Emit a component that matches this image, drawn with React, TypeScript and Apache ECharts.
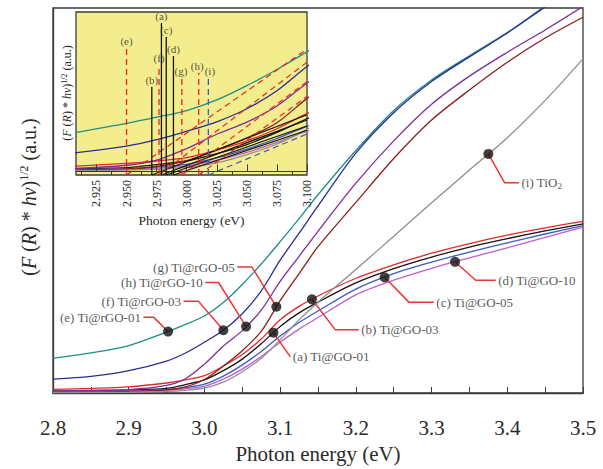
import React, { useEffect, useRef } from "react";
import * as echarts from "echarts";

const FONT = "'Liberation Serif', 'DejaVu Serif', serif";

// Shared photon-energy grid (eV)
const energy = [2.8, 2.85, 2.9, 2.95, 2.975, 3.0, 3.025, 3.05, 3.075, 3.1, 3.125, 3.15, 3.2, 3.25, 3.3, 3.35, 3.4, 3.45, 3.5];

// (F(R)*hv)^1/2 values (a.u.)
const tiGO01 = [0.5, 0.6, 0.8, 1.2, 2.2, 3.4, 5.8, 8.8, 12.8, 17.3, 20.8, 23.6, 28.6, 32.3, 35.3, 37.9, 40.1, 42.1, 43.9];
const tiGO03 = [0.95, 1.2, 1.6, 2.6, 3.4, 4.5, 7.0, 10.0, 14.0, 19.0, 22.5, 25.2, 29.8, 33.3, 36.3, 38.8, 41.0, 42.9, 44.6];
const tiGO05 = [0.35, 0.45, 0.6, 0.9, 1.4, 2.3, 4.4, 7.3, 10.8, 14.8, 18.3, 21.3, 27.0, 31.0, 34.0, 36.6, 39.0, 41.3, 43.5];
const tiGO10 = [0.3, 0.35, 0.5, 0.7, 1.1, 1.8, 3.6, 6.2, 9.5, 13.2, 16.6, 19.6, 25.5, 29.3, 32.4, 35.1, 37.7, 40.4, 43.1];
const tiRGO01 = [9.0, 10.4, 12.3, 15.8, 17.8, 20.0, 23.5, 28.2, 33.5, 39.3, 45.3, 51.5, 63.0, 73.4, 81.3, 87.6, 93.6, 100.5, 107];
const tiRGO03 = [3.6, 4.3, 5.8, 8.3, 10.4, 13.2, 16.3, 20.6, 26.5, 34.5, 41.5, 48.6, 62.3, 72.8, 80.9, 87.3, 93.5, 100.3, 107];
const tiRGO05 = [0.25, 0.3, 0.4, 0.8, 1.6, 3.5, 7.0, 11.0, 16.0, 24.0, 31.0, 38.0, 49.5, 60.9, 70.9, 78.7, 85.9, 92.2, 97.6];
const tiRGO10 = [0.5, 0.7, 0.9, 2.0, 3.7, 7.5, 12.2, 16.2, 21.5, 29.0, 35.5, 42.0, 54.5, 65.5, 75.0, 82.3, 88.5, 94.3, 100.4];
const tiO2 = [0.1, 0.15, 0.2, 0.4, 0.7, 1.3, 2.8, 5.5, 9.0, 13.8, 19.0, 23.6, 32.1, 40.7, 49.4, 57.9, 66.3, 76.0, 86.8];

// Inset: band-gap markers (eV), marker heights and tangent end values at 3.100 eV
const gapKeys = ["e", "b", "f", "a", "c", "d", "g", "h", "i"];
const gapEnergy = [2.95, 2.971, 2.977, 2.979, 2.983, 2.989, 2.996, 3.01, 3.018];
const gapTop = [40.6, 27.8, 35.0, 48.8, 44.2, 37.9, 30.7, 32.4, 30.7];
const tangentEnd = [40.2, 18.6, 35.9, 16.9, 14.9, 13.5, 29.5, 24.6, 12.3];
const gapKind = ["red", "black", "red", "black", "black", "black", "red", "red", "blue"];
const gapLabelShift = [0, 0, 0, 0, 0, 0, -1, -1.5, 1.5];

const insetTicks = [2.925, 2.95, 2.975, 3.0, 3.025, 3.05, 3.075, 3.1];
const insetMinorTicks = [2.9125, 2.9375, 2.9625, 2.9875, 3.0125, 3.0375, 3.0625, 3.0875];

const INSET_MIN = -1.2;
const INSET_MAX = 52.4;

const curves = [
  { name: "Ti@GO-01", data: tiGO01, color: "#141414" },
  { name: "Ti@GO-03", data: tiGO03, color: "#e8262a" },
  { name: "Ti@GO-05", data: tiGO05, color: "#3a5ac8" },
  { name: "Ti@GO-10", data: tiGO10, color: "#c25ec6" },
  { name: "Ti@rGO-01", data: tiRGO01, color: "#1f8d8a" },
  { name: "Ti@rGO-03", data: tiRGO03, color: "#2a2c92" },
  { name: "Ti@rGO-05", data: tiRGO05, color: "#8e1d1d" },
  { name: "Ti@rGO-10", data: tiRGO10, color: "#7c2e9c" },
  { name: "TiO2", data: tiO2, color: "#8e8e8e" },
];

// Callout annotations: marker energy on a curve, elbow and label anchor
const callouts = [
  { text: "(e) Ti@rGO-01", series: tiRGO01, x: 2.952, path: [[2.9327, 19.7], [2.9194, 19.7]], side: "left" },
  { text: "(f) Ti@rGO-03", series: tiRGO03, x: 3.025, path: [[2.9922, 23.8], [2.9724, 23.8]], side: "left" },
  { text: "(h) Ti@rGO-10", series: tiRGO10, x: 3.055, path: [[3.0187, 28.7], [3.0011, 28.7]], side: "left" },
  { text: "(g) Ti@rGO-05", series: tiRGO05, x: 3.095, path: [[3.0628, 32.7], [3.0434, 32.7]], side: "left" },
  { text: "(a) Ti@GO-01", series: tiGO01, x: 3.091, path: [[3.1135, 9.4]], side: "right" },
  { text: "(b) Ti@GO-03", series: tiGO03, x: 3.142, path: [[3.173, 16.4], [3.2038, 16.4]], side: "right" },
  { text: "(c) Ti@GO-05", series: tiGO05, x: 3.238, path: [[3.27, 23.6], [3.303, 23.6]], side: "right" },
  { text: "(d) Ti@GO-10", series: tiGO10, x: 3.331, path: [[3.3582, 29.3], [3.3847, 29.3]], side: "right" },
  { text: "{n|(i) TiO}{s|2}", series: tiO2, x: 3.375, path: [[3.3966, 54.6], [3.4155, 54.6]], side: "right" },
];

function interp(xs: number[], ys: number[], x: number): number {
  for (let i = 0; i < xs.length - 1; i++) {
    if (x >= xs[i] && x <= xs[i + 1]) {
      const t = (x - xs[i]) / (xs[i + 1] - xs[i]);
      return ys[i] + t * (ys[i + 1] - ys[i]);
    }
  }
  return ys[ys.length - 1];
}

function buildOption() {
  const series: any[] = [];
  curves.forEach((c) => {
    series.push({
      type: "line",
      name: c.name,
      xAxisIndex: 0,
      yAxisIndex: 0,
      data: energy.map((x, i) => [x, c.data[i]]),
      smooth: 0.3,
      symbol: "none",
      lineStyle: { color: c.color, width: 1.3 },
      z: 3,
    });
  });
  curves.forEach((c) => {
    series.push({
      type: "line",
      xAxisIndex: 1,
      yAxisIndex: 1,
      data: energy.map((x, i) => [x, c.data[i]]),
      smooth: 0.3,
      symbol: "none",
      lineStyle: { color: c.color, width: 1.3 },
      z: 5,
    });
  });
  const kindColor: any = { red: "#e8262a", black: "#141414", blue: "#3a5ac8" };
  gapKeys.forEach((k, i) => {
    const color = kindColor[gapKind[i]];
    const type = gapKind[i] === "black" ? "solid" : [6, 4];
    series.push({
      type: "line",
      xAxisIndex: 1,
      yAxisIndex: 1,
      data: [[gapEnergy[i], INSET_MIN], [gapEnergy[i], gapTop[i]]],
      symbol: "none",
      lineStyle: { color, width: 1.3, type },
      z: 6,
    });
    series.push({
      type: "line",
      xAxisIndex: 1,
      yAxisIndex: 1,
      data: [[gapEnergy[i], INSET_MIN], [3.1, tangentEnd[i]]],
      symbol: "none",
      lineStyle: { color, width: 1.2, type },
      z: 6,
    });
  });
  series.push({
    type: "scatter",
    xAxisIndex: 1,
    yAxisIndex: 1,
    symbolSize: 1,
    itemStyle: { color: "rgba(0,0,0,0)" },
    data: gapKeys.map((k, i) => ({
      value: [gapEnergy[i], gapTop[i]],
      label: {
        show: true,
        position: "top",
        distance: 1,
        offset: [gapLabelShift[i], 0],
        formatter: "(" + k + ")",
        fontFamily: FONT,
        fontSize: 11,
        color: "#2a2a2a",
      },
    })),
    z: 7,
  });
  callouts.forEach((c) => {
    const y = interp(energy, c.series, c.x);
    series.push({
      type: "line",
      xAxisIndex: 0,
      yAxisIndex: 0,
      data: [[c.x, y], ...c.path],
      symbol: "none",
      lineStyle: { color: "#e8383a", width: 1.5 },
      z: 8,
    });
  });
  series.push({
    type: "scatter",
    xAxisIndex: 0,
    yAxisIndex: 0,
    symbolSize: 1,
    itemStyle: { color: "rgba(0,0,0,0)" },
    data: callouts.map((c) => ({
      value: c.path[c.path.length - 1],
      label: {
        show: true,
        position: c.side,
        distance: 2,
        formatter: c.text,
        fontFamily: FONT,
        fontSize: 13,
        color: "#2a2a2a",
        rich: {
          n: { fontFamily: FONT, fontSize: 13, color: "#2a2a2a" },
          s: { fontFamily: FONT, fontSize: 9, color: "#2a2a2a", padding: [7, 0, 0, 0] },
        },
      },
    })),
    z: 9,
  });
  series.push({
    type: "scatter",
    xAxisIndex: 0,
    yAxisIndex: 0,
    symbol: "circle",
    symbolSize: 10,
    itemStyle: { color: "#111" },
    data: callouts.map((c) => [c.x, interp(energy, c.series, c.x)]),
    z: 10,
  });

  const ylabelRich = (base: number, sup: number, supPad: number) => ({
    i: { fontFamily: FONT, fontSize: base, fontStyle: "italic", fill: "#2a2a2a" },
    n: { fontFamily: FONT, fontSize: base, fill: "#2a2a2a" },
    s: { fontFamily: FONT, fontSize: sup, fill: "#2a2a2a", padding: [0, 0, supPad, 0] },
  });

  return {
    animation: false,
    backgroundColor: "#ffffff",
    grid: [
      { left: 53, right: 20, top: 8, bottom: 67, show: true, borderColor: "#3a3a3a", borderWidth: 1.3, backgroundColor: "transparent" },
      { left: 76, top: 12, width: 231, height: 163, show: true, borderColor: "#3a3a3a", borderWidth: 1.3, backgroundColor: "#f4ed8e", z: 4 },
    ],
    xAxis: [
      {
        gridIndex: 0,
        type: "value",
        min: 2.8,
        max: 3.5,
        interval: 0.1,
        axisLine: { show: true, lineStyle: { color: "#3a3a3a", width: 1.3 } },
        axisTick: { show: true, inside: true, length: 6, lineStyle: { color: "#3a3a3a" } },
        minorTick: { show: true, splitNumber: 2, length: 6, lineStyle: { color: "#3a3a3a" } },
        splitLine: { show: false },
        axisLabel: { fontFamily: FONT, fontSize: 21, color: "#2a2a2a", margin: 24, formatter: (v: number) => v.toFixed(1) },
        name: "Photon energy (eV)",
        nameLocation: "middle",
        nameGap: 50,
        nameTextStyle: { fontFamily: FONT, fontSize: 21, color: "#2a2a2a" },
      },
      {
        gridIndex: 1,
        type: "value",
        position: "bottom",
        min: 2.908,
        max: 3.1,
        axisLine: { show: true, lineStyle: { color: "#3a3a3a", width: 1.2 } },
        axisTick: { show: true, inside: true, length: 7, customValues: insetTicks, lineStyle: { color: "#3a3a3a" } },
        splitLine: { show: false },
        axisLabel: {
          customValues: insetTicks,
          rotate: 90,
          fontFamily: FONT,
          fontSize: 12,
          color: "#2a2a2a",
          margin: 5,
          formatter: (v: number) => v.toFixed(3),
        },
        name: "Photon energy (eV)",
        nameLocation: "middle",
        nameGap: 38,
        nameTextStyle: { fontFamily: FONT, fontSize: 13.5, color: "#2a2a2a" },
        z: 6,
      },
      {
        gridIndex: 1,
        type: "value",
        position: "bottom",
        min: 2.908,
        max: 3.1,
        axisLine: { show: false },
        axisTick: { show: true, inside: true, length: 4, customValues: insetMinorTicks, lineStyle: { color: "#3a3a3a" } },
        axisLabel: { show: false },
        splitLine: { show: false },
        z: 6,
      },
    ],
    yAxis: [
      {
        gridIndex: 0,
        type: "value",
        min: 0,
        max: 100,
        axisLine: { show: true, lineStyle: { color: "#3a3a3a", width: 1.3 } },
        axisTick: { show: false },
        axisLabel: { show: false },
        splitLine: { show: false },
      },
      {
        gridIndex: 1,
        type: "value",
        min: INSET_MIN,
        max: INSET_MAX,
        axisLine: { show: false },
        axisTick: { show: false },
        axisLabel: { show: false },
        splitLine: { show: false },
      },
    ],
    graphic: [
      {
        type: "text",
        x: 29,
        y: 197,
        rotation: Math.PI / 2,
        style: {
          text: "{n|(}{i|F}{n| (}{i|R}{n|) * }{i|hν}{n|)}{s|1/2}{n| (a.u.)}",
          rich: ylabelRich(20, 12, 10),
          align: "center",
          verticalAlign: "middle",
        },
      },
      {
        type: "text",
        x: 67,
        y: 93,
        rotation: Math.PI / 2,
        z: 20,
        style: {
          text: "{n|(}{i|F}{n| (}{i|R}{n|) * }{i|hν}{n|)}{s|1/2}{n| (a.u.)}",
          rich: ylabelRich(12, 8, 6),
          align: "center",
          verticalAlign: "middle",
        },
      },
    ],
    series,
  };
}

export default function App() {
  const ref = useRef<HTMLDivElement>(null);
  useEffect(() => {
    if (!ref.current) return;
    const chart = echarts.init(ref.current, null, { renderer: "svg" });
    chart.setOption(buildOption() as any);
    return () => chart.dispose();
  }, []);
  return (
    <div
      ref={ref}
      style={{ position: "fixed", left: 0, top: 0, width: 603, height: 469, background: "#fff" }}
    />
  );
}
